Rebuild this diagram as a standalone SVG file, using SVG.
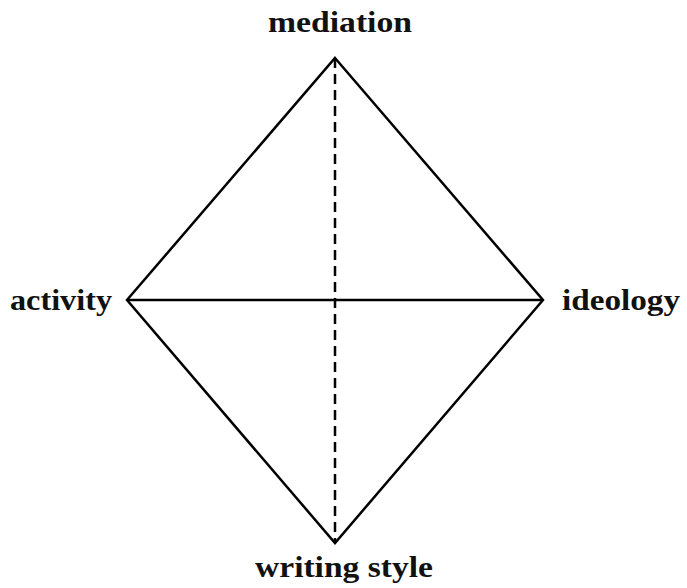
<svg xmlns="http://www.w3.org/2000/svg" width="687" height="588" viewBox="0 0 687 588">
<style>
.lbl{font-family:"Liberation Serif","DejaVu Serif",serif;font-weight:bold;font-size:30px;fill:#111}
.edge{stroke:#000;stroke-width:2.5;fill:none}
.dash{stroke:#000;stroke-width:2.5;stroke-dasharray:10 6;fill:none}
</style>
<rect width="687" height="588" fill="#fff"/>
<g id="connectors">
<path class="edge" d="M335,58 L543,300 L335,543 L127,300 Z"/>
<line class="edge" x1="127" y1="300" x2="543" y2="300"/>
<line class="dash" x1="335" y1="58" x2="335" y2="543"/>
</g>
<g id="mediation"><text class="lbl" x="268" y="32" textLength="144" lengthAdjust="spacingAndGlyphs">mediation</text></g>
<g id="activity"><text class="lbl" x="10" y="310" textLength="102" lengthAdjust="spacingAndGlyphs">activity</text></g>
<g id="ideology"><text class="lbl" x="562" y="310" textLength="118" lengthAdjust="spacingAndGlyphs">ideology</text></g>
<g id="writing-style"><text class="lbl" x="255" y="577" textLength="178" lengthAdjust="spacingAndGlyphs">writing style</text></g>
</svg>
